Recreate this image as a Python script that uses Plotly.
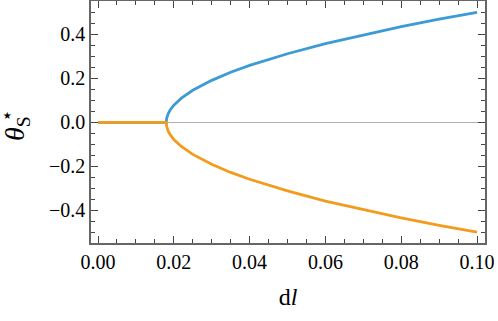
import plotly.graph_objects as go

# bifurcation diagram
dl = [0.0, 0.005, 0.01, 0.015, 0.018, 0.0181, 0.0183, 0.0185, 0.019, 0.02, 0.022,
      0.025, 0.03, 0.035, 0.04, 0.05, 0.06, 0.07, 0.08, 0.09, 0.1]
theta_upper = [0.0, 0.0, 0.0, 0.0, 0.0, 0.017, 0.030, 0.039, 0.055, 0.078, 0.110,
               0.146, 0.191, 0.228, 0.259, 0.312, 0.358, 0.398, 0.435, 0.469, 0.5]
theta_lower = [0.0, 0.0, 0.0, 0.0, 0.0, -0.017, -0.030, -0.039, -0.055, -0.078, -0.110,
               -0.146, -0.191, -0.228, -0.259, -0.312, -0.358, -0.398, -0.435, -0.469, -0.5]

blue = '#3c9bd4'
orange = '#f29b1d'
frame = '#666666'
font = 'Liberation Serif'

fig = go.Figure()
fig.add_trace(go.Scatter(x=dl, y=theta_upper, mode='lines',
                         line=dict(color=blue, width=2.8)))
fig.add_trace(go.Scatter(x=dl, y=theta_lower, mode='lines',
                         line=dict(color=orange, width=2.8)))

axis_common = dict(
    showline=True, linecolor=frame, linewidth=1.5, mirror='allticks',
    ticks='inside', ticklen=7, tickwidth=1, tickcolor='#444',
    showgrid=False, automargin=False,
    tickfont=dict(family=font, size=20, color='black'),
)

fig.update_xaxes(
    range=[-0.00185, 0.1021], tickvals=[0, 0.02, 0.04, 0.06, 0.08, 0.1],
    ticktext=['0.00', '0.02', '0.04', '0.06', '0.08', '0.10'],
    minor=dict(ticks='inside', ticklen=4, tickcolor='#444', dtick=0.005, tick0=0),
    zeroline=False,
    title=dict(text='d<i>l</i>', font=dict(family=font, size=24, color='black'), standoff=16),
    **axis_common,
)
fig.update_yaxes(
    range=[-0.549, 0.552], tickvals=[-0.4, -0.2, 0, 0.2, 0.4],
    ticktext=['−0.4', '−0.2', '0.0', '0.2', '0.4'],
    minor=dict(ticks='inside', ticklen=4, tickcolor='#444', dtick=0.05, tick0=0),
    zeroline=True, zerolinecolor='#b0b0b0', zerolinewidth=1,
    **axis_common,
)

# y title: theta with stacked star / subscript S
fig.add_annotation(xref='paper', yref='paper', x=0, y=0.5, xshift=-75, yshift=-7,
                   xanchor='center', yanchor='middle',
                   text='<i>θ</i><sub>S</sub>', textangle=-90, showarrow=False,
                   font=dict(family=font, size=28, color='black'))
fig.add_annotation(xref='paper', yref='paper', x=0, y=0.5, xshift=-84, yshift=7,
                   xanchor='center', yanchor='middle',
                   text='⋆', showarrow=False,
                   font=dict(family=font, size=20, color='black'))

fig.update_layout(
    width=498, height=321,
    margin=dict(l=91, r=13, t=1, b=78),
    paper_bgcolor='white', plot_bgcolor='white',
    font=dict(family=font),
    showlegend=False,
)

fig.write_html("out.html", config={'displayModeBar': False},
               post_script="document.body.style.margin='0';")
